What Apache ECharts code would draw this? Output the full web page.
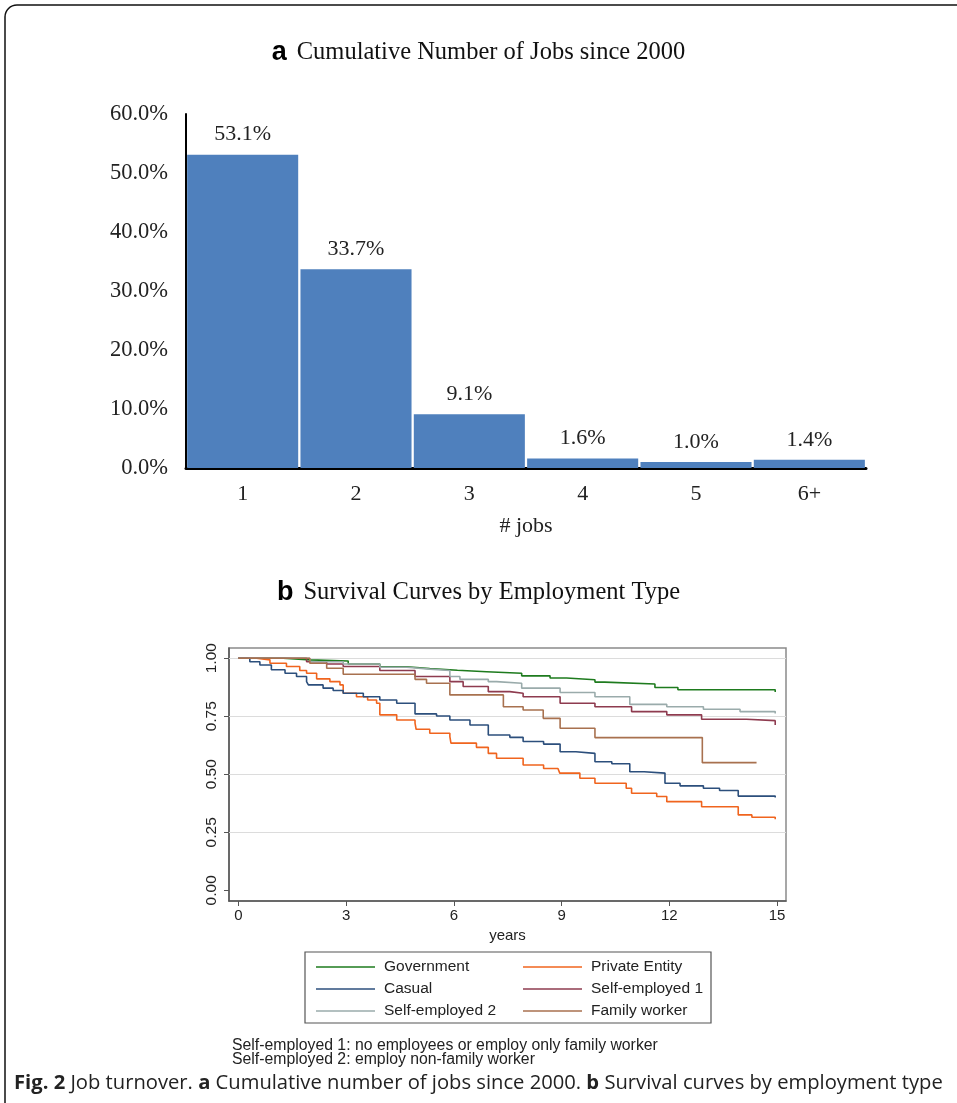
<!DOCTYPE html>
<html>
<head>
<meta charset="utf-8">
<script src="https://cdn.jsdelivr.net/npm/echarts@6/dist/echarts.min.js"></script>
<style>
html,body{margin:0;padding:0;background:#fff;}
#chart{width:957px;height:1103px;}
</style>
</head>
<body>
<div id="chart"></div>
<script>
// ---- Panel a data ----
const jobCategories = ['1', '2', '3', '4', '5', '6+'];
const jobShares = [53.1, 33.7, 9.1, 1.6, 1.0, 1.4];
const shareTicks = [0, 10, 20, 30, 40, 50, 60];

// ---- Panel b data: [years, survival] step points ----
const survGovernment = [[0,1],[1.25,0.993],[2.0,0.988],[3.06,0.975],[3.94,0.963],[4.69,0.955],[5.33,0.948],[6.1,0.942],[6.91,0.935],[7.89,0.924],[8.68,0.915],[9.14,0.907],[9.93,0.897],[10.2,0.889],[11.6,0.874],[12.24,0.864],[14.95,0.854]];
const survPrivate = [[0,1],[0.51,0.993],[0.88,0.978],[1.34,0.964],[1.71,0.947],[1.9,0.935],[2.18,0.911],[2.55,0.899],[2.83,0.885],[2.92,0.849],[3.29,0.834],[3.6,0.82],[3.85,0.806],[3.94,0.756],[4.41,0.734],[4.92,0.72],[4.95,0.694],[5.33,0.677],[5.89,0.662],[5.92,0.634],[6.63,0.616],[6.96,0.59],[7.19,0.569],[7.93,0.54],[8.5,0.525],[8.9,0.519],[8.95,0.505],[9.51,0.483],[9.93,0.461],[10.8,0.44],[10.95,0.418],[11.65,0.404],[11.93,0.382],[12.9,0.36],[13.92,0.325],[14.3,0.315],[14.95,0.306]];
const survCasual = [[0,1],[0.32,0.985],[0.6,0.971],[0.92,0.95],[1.3,0.935],[1.62,0.921],[1.9,0.899],[1.95,0.885],[2.36,0.871],[2.64,0.861],[2.92,0.849],[3.48,0.834],[3.94,0.82],[4.41,0.806],[4.92,0.76],[5.52,0.751],[5.89,0.734],[6.45,0.712],[6.96,0.669],[7.56,0.659],[7.93,0.641],[8.5,0.63],[8.96,0.597],[9.4,0.59],[9.93,0.554],[10.4,0.545],[10.9,0.511],[11.3,0.505],[11.88,0.461],[12.3,0.45],[12.95,0.44],[13.4,0.43],[13.92,0.406],[14.95,0.40]];
const survSelf1 = [[0,1],[1.9,0.985],[2.46,0.975],[2.92,0.964],[3.94,0.947],[4.92,0.921],[5.89,0.899],[6.26,0.878],[6.96,0.856],[7.56,0.849],[7.93,0.834],[8.96,0.806],[9.93,0.791],[10.95,0.77],[11.93,0.756],[12.9,0.737],[14.15,0.731],[14.95,0.712]];
const survSelf2 = [[0,1],[1.99,0.985],[2.92,0.975],[3.94,0.961],[4.69,0.953],[5.33,0.947],[5.89,0.921],[6.17,0.909],[6.96,0.899],[7.19,0.892],[7.89,0.871],[8.96,0.852],[9.93,0.834],[10.9,0.801],[11.93,0.791],[12.95,0.78],[13.97,0.77],[14.95,0.762]];
const survFamily = [[0,1],[1.99,0.978],[2.46,0.957],[2.92,0.931],[4.92,0.909],[5.24,0.892],[5.89,0.842],[7.38,0.791],[7.93,0.777],[8.49,0.741],[8.96,0.698],[9.93,0.658],[12.92,0.55],[14.43,0.55]];
const yearTicks = [0, 3, 6, 9, 12, 15];
const survTicks = [0, 0.25, 0.5, 0.75, 1];
const survGridLines = [0.25, 0.5, 0.75, 1];

const seriesNames = ['Government', 'Private Entity', 'Casual', 'Self-employed 1', 'Self-employed 2', 'Family worker'];
const seriesColors = ['#1e7b1e', '#f0641e', '#2c4f7c', '#8e3b4f', '#9aabab', '#a8714f'];
const seriesData = [survGovernment, survPrivate, survCasual, survSelf1, survSelf2, survFamily];

const serif = '"Liberation Serif", "Times New Roman", serif';
const sans = '"Liberation Sans", Arial, sans-serif';

const chart = echarts.init(document.getElementById('chart'), null, {renderer: 'canvas'});

const survSeries = seriesNames.map((n, i) => ({
  name: n,
  type: 'line',
  xAxisIndex: 1,
  yAxisIndex: 1,
  step: 'end',
  symbol: 'none',
  data: seriesData[i],
  lineStyle: {color: seriesColors[i], width: 1.6},
  itemStyle: {color: seriesColors[i]},
  z: 3,
  animation: false
}));
survSeries[0].markLine = {
  silent: true,
  symbol: 'none',
  label: {show: false},
  lineStyle: {color: '#dcdcdc', width: 1.2, type: 'solid'},
  data: survGridLines.map(v => ({yAxis: v})),
  z: 1,
  animation: false
};

const option = {
  backgroundColor: '#fff',
  animation: false,
  grid: [
    {left: 186, right: 91, top: 114, bottom: 635, containLabel: false},
    {left: 229, right: 171, top: 648, bottom: 202, show: true, borderColor: '#8a8a8a', borderWidth: 1.5}
  ],
  title: [
    {
      text: '{b|a}  {t|Cumulative Number of Jobs since 2000}',
      left: 'center', top: 34,
      textStyle: {fontWeight: 'normal', rich: {
        b: {fontFamily: sans, fontWeight: 'bold', fontSize: 27, color: '#000'},
        t: {fontFamily: serif, fontWeight: 'normal', fontSize: 24.5, color: '#111'}
      }}
    },
    {
      text: '{b|b}  {t|Survival Curves by Employment Type}',
      left: 'center', top: 574,
      textStyle: {fontWeight: 'normal', rich: {
        b: {fontFamily: sans, fontWeight: 'bold', fontSize: 27, color: '#000'},
        t: {fontFamily: serif, fontWeight: 'normal', fontSize: 24.5, color: '#111'}
      }}
    }
  ],
  xAxis: [
    {
      gridIndex: 0, type: 'category', data: jobCategories,
      axisLine: {lineStyle: {color: '#000', width: 3}},
      axisTick: {show: false},
      axisLabel: {fontFamily: serif, fontSize: 22, color: '#222', margin: 15},
      name: '# jobs', nameLocation: 'middle', nameGap: 47,
      nameTextStyle: {fontFamily: serif, fontSize: 22, color: '#222'}
    },
    {
      gridIndex: 1, type: 'value', min: -0.26, max: 15.25,
      axisLine: {onZero: false, lineStyle: {color: '#555', width: 1.5}},
      axisTick: {customValues: yearTicks, length: 5, lineStyle: {color: '#555'}},
      axisLabel: {customValues: yearTicks, fontFamily: sans, fontSize: 15, color: '#222', margin: 7},
      splitLine: {show: false},
      name: 'years', nameLocation: 'middle', nameGap: 27,
      nameTextStyle: {fontFamily: sans, fontSize: 15, color: '#222'}
    }
  ],
  yAxis: [
    {
      gridIndex: 0, type: 'value', min: 0, max: 60, interval: 10,
      axisLine: {show: true, lineStyle: {color: '#000', width: 2}},
      axisTick: {show: false},
      splitLine: {show: false},
      axisLabel: {fontFamily: serif, fontSize: 22.5, color: '#222', margin: 18,
        formatter: v => v.toFixed(1) + '%'}
    },
    {
      gridIndex: 1, type: 'value', min: -0.046, max: 1.044,
      axisLine: {show: true, onZero: false, lineStyle: {color: '#555', width: 1.5}},
      axisTick: {show: true, customValues: survTicks, length: 5, lineStyle: {color: '#555'}},
      splitLine: {show: false},
      axisLabel: {customValues: survTicks, rotate: 90, fontFamily: sans, fontSize: 15.5, color: '#222', margin: 9,
        formatter: v => v.toFixed(2)}
    }
  ],
  legend: [
    {
      data: ['Government', 'Casual', 'Self-employed 2'],
      orient: 'vertical', left: 311, top: 953,
      icon: 'rect', itemWidth: 59, itemHeight: 1.6, itemGap: 4,
      textStyle: {fontFamily: sans, fontSize: 15.5, color: '#222', lineHeight: 18, padding: [0, 0, 0, 4]},
      selectedMode: false
    },
    {
      data: ['Private Entity', 'Self-employed 1', 'Family worker'],
      orient: 'vertical', left: 518, top: 953,
      icon: 'rect', itemWidth: 59, itemHeight: 1.6, itemGap: 4,
      textStyle: {fontFamily: sans, fontSize: 15.5, color: '#222', lineHeight: 18, padding: [0, 0, 0, 4]},
      selectedMode: false
    }
  ],
  graphic: [
    {type: 'rect', shape: {x: 5, y: 5, width: 1000, height: 1150, r: 12}, style: {fill: 'none', stroke: '#111', lineWidth: 1.5}, silent: true},
    {type: 'rect', shape: {x: 305, y: 952, width: 406, height: 71}, style: {fill: 'none', stroke: '#555', lineWidth: 1.2}, silent: true},
    {type: 'text', left: 232, top: 1038, style: {text: 'Self-employed 1: no employees or employ only family worker\nSelf-employed 2: employ non-family worker', font: '15.8px ' + sans, fill: '#222', lineHeight: 13.5}, silent: true},
    {type: 'text', left: 14, top: 1073, style: {
      text: '{b|Fig. 2} Job turnover. {b|a} Cumulative number of jobs since 2000. {b|b} Survival curves by employment type',
      font: '20.2px "Open Sans", sans-serif', fill: '#222',
      rich: {b: {fontWeight: 'bold', fontFamily: '"Open Sans", sans-serif', fontSize: 20.2, fill: '#222'}}
    }, silent: true}
  ],
  series: [
    {
      type: 'bar', xAxisIndex: 0, yAxisIndex: 0,
      data: jobShares,
      barCategoryGap: '2%',
      itemStyle: {color: '#4f80bd'},
      label: {show: true, position: 'top', distance: 9, fontFamily: serif, fontSize: 22, color: '#222',
        formatter: p => p.value.toFixed(1) + '%'},
      z: 2
    }
  ].concat(survSeries)
};

chart.setOption(option);
</script>
</body>
</html>
